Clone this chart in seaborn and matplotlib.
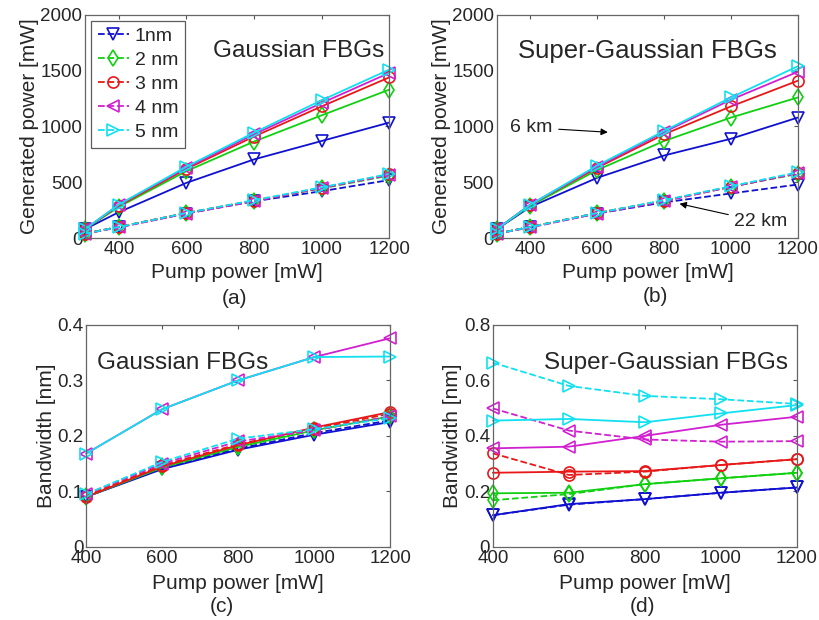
import numpy as np
import pandas as pd
import matplotlib
matplotlib.use("Agg")
import matplotlib.pyplot as plt
import seaborn as sns

# ---------------- data ----------------
labels = ["1nm", "2 nm", "3 nm", "4 nm", "5 nm"]
colors = ["#1010d0", "#10d010", "#e81818", "#d020d0", "#10e0f0"]
markers = ["v", "d", "o", "<", ">"]

pump_top = [300, 400, 600, 800, 1000, 1200]
pump_bot = [400, 600, 800, 1000, 1200]

# (a) Gaussian FBGs, generated power, 6 km (solid) and 22 km (dashed)
gauss_6km = [
    [80, 232, 495, 705, 870, 1035],
    [80, 280, 600, 865, 1100, 1330],
    [80, 290, 620, 910, 1180, 1440],
    [80, 300, 630, 930, 1210, 1480],
    [80, 300, 640, 945, 1235, 1510],
]
gauss_22km = [
    [40, 100, 220, 330, 420, 520],
    [40, 100, 225, 335, 445, 560],
    [40, 100, 225, 335, 450, 570],
    [40, 95, 220, 330, 450, 565],
    [40, 100, 225, 340, 455, 575],
]
# (b) Super-Gaussian FBGs, generated power
sg_6km = [
    [80, 280, 540, 740, 890, 1080],
    [80, 290, 610, 870, 1080, 1260],
    [80, 300, 630, 930, 1180, 1410],
    [80, 300, 640, 950, 1240, 1490],
    [80, 300, 650, 960, 1260, 1540],
]
sg_22km = [
    [40, 100, 220, 320, 400, 480],
    [40, 100, 225, 335, 460, 575],
    [40, 100, 225, 335, 460, 580],
    [40, 95, 220, 330, 460, 580],
    [40, 100, 225, 340, 465, 590],
]
# (c) Gaussian FBGs, bandwidth
gauss_bw_6km = [
    [0.090, 0.140, 0.175, 0.202, 0.225],
    [0.090, 0.143, 0.180, 0.210, 0.235],
    [0.090, 0.145, 0.183, 0.215, 0.243],
    [0.168, 0.248, 0.300, 0.342, 0.376],
    [0.168, 0.248, 0.300, 0.342, 0.343],
]
gauss_bw_22km = [
    [0.090, 0.142, 0.177, 0.205, 0.228],
    [0.092, 0.145, 0.182, 0.210, 0.235],
    [0.092, 0.147, 0.185, 0.213, 0.240],
    [0.095, 0.150, 0.190, 0.210, 0.235],
    [0.095, 0.153, 0.195, 0.212, 0.232],
]
# (d) Super-Gaussian FBGs, bandwidth
sg_bw_6km = [
    [0.114, 0.154, 0.172, 0.195, 0.214],
    [0.193, 0.195, 0.226, 0.247, 0.267],
    [0.267, 0.271, 0.273, 0.295, 0.316],
    [0.355, 0.361, 0.400, 0.440, 0.469],
    [0.455, 0.461, 0.449, 0.481, 0.511],
]
sg_bw_22km = [
    [0.114, 0.152, 0.172, 0.195, 0.214],
    [0.168, 0.190, 0.226, 0.247, 0.267],
    [0.337, 0.259, 0.271, 0.295, 0.316],
    [0.499, 0.419, 0.387, 0.379, 0.381],
    [0.664, 0.580, 0.544, 0.532, 0.515],
]

# ---------------- style ----------------
sns.set_style("white")
plt.rcParams["font.family"] = ["Liberation Sans", "DejaVu Sans"]
plt.rcParams["font.size"] = 13

TICK_FS = 13.5
LABEL_FS = 15
TITLE_FS = 17.5

fig = plt.figure(figsize=(8.2, 6.2), dpi=100)
ax_a = fig.add_axes([0.1037, 0.616, 0.371, 0.360])
ax_b = fig.add_axes([0.606, 0.616, 0.367, 0.360])
ax_c = fig.add_axes([0.105, 0.118, 0.371, 0.358])
ax_d = fig.add_axes([0.601, 0.118, 0.371, 0.358])


def draw(ax, x, solid, dashed):
    handles = []
    for i in range(5):
        df_s = pd.DataFrame({"x": x, "y": solid[i]})
        df_d = pd.DataFrame({"x": x, "y": dashed[i]})
        sns.lineplot(data=df_d, x="x", y="y", ax=ax, color=colors[i],
                     marker=markers[i], markersize=8, markerfacecolor="none",
                     markeredgecolor=colors[i], markeredgewidth=1.2,
                     linestyle="--", lw=1.3, legend=False, clip_on=False)
        handles.append(ax.lines[-1])
        sns.lineplot(data=df_s, x="x", y="y", ax=ax, color=colors[i],
                     marker=markers[i], markersize=8, markerfacecolor="none",
                     markeredgecolor=colors[i], markeredgewidth=1.2,
                     linestyle="-", lw=1.3, legend=False, clip_on=False)
    return handles


def style(ax, xlim, ylim, yticks, ylabel, xpad):
    ax.set_xlim(*xlim)
    ax.set_ylim(*ylim)
    ax.set_xticks([400, 600, 800, 1000, 1200])
    ax.set_yticks(yticks)
    ax.set_xlabel("Pump power [mW]", fontsize=LABEL_FS, labelpad=xpad)
    ax.set_ylabel(ylabel, fontsize=LABEL_FS, labelpad=1)
    ax.tick_params(direction="in", length=3, top=True, right=True,
                   labelsize=TICK_FS, pad=2, color="#555555")
    for s in ax.spines.values():
        s.set_color("#666666")
        s.set_linewidth(0.9)


h = draw(ax_a, pump_top, gauss_6km, gauss_22km)
draw(ax_b, pump_top, sg_6km, sg_22km)
draw(ax_c, pump_bot, gauss_bw_6km, gauss_bw_22km)
draw(ax_d, pump_bot, sg_bw_6km, sg_bw_22km)

style(ax_a, (300, 1200), (0, 2000), [0, 500, 1000, 1500, 2000],
      "Generated power [mW]", 4)
style(ax_b, (300, 1200), (0, 2000), [0, 500, 1000, 1500, 2000],
      "Generated power [mW]", 4)
style(ax_c, (400, 1200), (0, 0.4), [0, 0.1, 0.2, 0.3, 0.4], "Bandwidth [nm]", 5)
style(ax_d, (400, 1200), (0, 0.8), [0, 0.2, 0.4, 0.6, 0.8], "Bandwidth [nm]", 5)
ax_c.set_yticklabels(["0", "0.1", "0.2", "0.3", "0.4"])
ax_d.set_yticklabels(["0", "0.2", "0.4", "0.6", "0.8"])

leg = ax_a.legend(h, labels, loc="upper left", fontsize=14, frameon=True,
                  fancybox=False, edgecolor="#333333", handlelength=1.6,
                  handletextpad=0.3, labelspacing=0.33, borderpad=0.35,
                  borderaxespad=0.3)
leg.get_frame().set_linewidth(0.9)

# panel titles
ax_a.text(0.985, 0.84, "Gaussian FBGs", transform=ax_a.transAxes, ha="right",
          va="center", fontsize=TITLE_FS)
ax_b.text(0.93, 0.84, "Super-Gaussian FBGs", transform=ax_b.transAxes,
          ha="right", va="center", fontsize=18.5)
ax_c.text(0.035, 0.83, "Gaussian FBGs", transform=ax_c.transAxes, ha="left",
          va="center", fontsize=TITLE_FS)
ax_d.text(0.97, 0.83, "Super-Gaussian FBGs", transform=ax_d.transAxes,
          ha="right", va="center", fontsize=TITLE_FS)

# annotations in (b)
ax_b.annotate("6 km", xy=(640, 947), xytext=(340, 990), fontsize=14,
              va="center", ha="left",
              arrowprops=dict(arrowstyle="-|>", color="black", lw=0.8,
                              mutation_scale=10))
ax_b.annotate("22 km", xy=(838, 313), xytext=(1010, 145), fontsize=14,
              va="center", ha="left",
              arrowprops=dict(arrowstyle="-|>", color="black", lw=0.8,
                              mutation_scale=10))

# sub-figure labels
fig.text(235 / 820, 1 - 298 / 620, "(a)", ha="center", va="center", fontsize=15)
fig.text(655 / 820, 1 - 297 / 620, "(b)", ha="center", va="center", fontsize=15)
fig.text(222 / 820, 1 - 607 / 620, "(c)", ha="center", va="center", fontsize=15)
fig.text(643 / 820, 1 - 607 / 620, "(d)", ha="center", va="center", fontsize=15)

fig.savefig("out.png", dpi=100)
